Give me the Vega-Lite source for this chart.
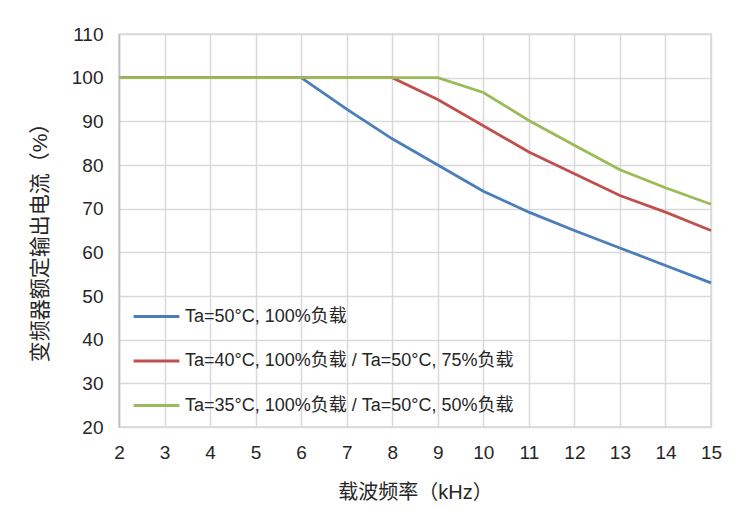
{
  "$schema": "https://vega.github.io/schema/vega-lite/v6.json",
  "autosize": "none",
  "width": 592,
  "height": 393,
  "padding": {"left": 119, "top": 34, "right": 29, "bottom": 97},
  "background": "white",
  "config": {
    "font": "Liberation Sans",
    "view": {"stroke": "#d9d9d9", "strokeWidth": 1.5}
  },
  "data": {
    "values": [
      {"f": 2, "v": 100, "s": "Ta=50°C, 100%负载"},
      {"f": 3, "v": 100, "s": "Ta=50°C, 100%负载"},
      {"f": 4, "v": 100, "s": "Ta=50°C, 100%负载"},
      {"f": 5, "v": 100, "s": "Ta=50°C, 100%负载"},
      {"f": 6, "v": 100, "s": "Ta=50°C, 100%负载"},
      {"f": 7, "v": 92.8, "s": "Ta=50°C, 100%负载"},
      {"f": 8, "v": 86, "s": "Ta=50°C, 100%负载"},
      {"f": 9, "v": 80, "s": "Ta=50°C, 100%负载"},
      {"f": 10, "v": 74, "s": "Ta=50°C, 100%负载"},
      {"f": 11, "v": 69.2, "s": "Ta=50°C, 100%负载"},
      {"f": 12, "v": 65, "s": "Ta=50°C, 100%负载"},
      {"f": 13, "v": 61, "s": "Ta=50°C, 100%负载"},
      {"f": 14, "v": 57, "s": "Ta=50°C, 100%负载"},
      {"f": 15, "v": 53, "s": "Ta=50°C, 100%负载"},
      {"f": 2, "v": 100, "s": "Ta=40°C, 100%负载 / Ta=50°C, 75%负载"},
      {"f": 3, "v": 100, "s": "Ta=40°C, 100%负载 / Ta=50°C, 75%负载"},
      {"f": 4, "v": 100, "s": "Ta=40°C, 100%负载 / Ta=50°C, 75%负载"},
      {"f": 5, "v": 100, "s": "Ta=40°C, 100%负载 / Ta=50°C, 75%负载"},
      {"f": 6, "v": 100, "s": "Ta=40°C, 100%负载 / Ta=50°C, 75%负载"},
      {"f": 7, "v": 100, "s": "Ta=40°C, 100%负载 / Ta=50°C, 75%负载"},
      {"f": 8, "v": 100, "s": "Ta=40°C, 100%负载 / Ta=50°C, 75%负载"},
      {"f": 9, "v": 95, "s": "Ta=40°C, 100%负载 / Ta=50°C, 75%负载"},
      {"f": 10, "v": 89, "s": "Ta=40°C, 100%负载 / Ta=50°C, 75%负载"},
      {"f": 11, "v": 83, "s": "Ta=40°C, 100%负载 / Ta=50°C, 75%负载"},
      {"f": 12, "v": 78, "s": "Ta=40°C, 100%负载 / Ta=50°C, 75%负载"},
      {"f": 13, "v": 73, "s": "Ta=40°C, 100%负载 / Ta=50°C, 75%负载"},
      {"f": 14, "v": 69.2, "s": "Ta=40°C, 100%负载 / Ta=50°C, 75%负载"},
      {"f": 15, "v": 65, "s": "Ta=40°C, 100%负载 / Ta=50°C, 75%负载"},
      {"f": 2, "v": 100, "s": "Ta=35°C, 100%负载 / Ta=50°C, 50%负载"},
      {"f": 3, "v": 100, "s": "Ta=35°C, 100%负载 / Ta=50°C, 50%负载"},
      {"f": 4, "v": 100, "s": "Ta=35°C, 100%负载 / Ta=50°C, 50%负载"},
      {"f": 5, "v": 100, "s": "Ta=35°C, 100%负载 / Ta=50°C, 50%负载"},
      {"f": 6, "v": 100, "s": "Ta=35°C, 100%负载 / Ta=50°C, 50%负载"},
      {"f": 7, "v": 100, "s": "Ta=35°C, 100%负载 / Ta=50°C, 50%负载"},
      {"f": 8, "v": 100, "s": "Ta=35°C, 100%负载 / Ta=50°C, 50%负载"},
      {"f": 9, "v": 100, "s": "Ta=35°C, 100%负载 / Ta=50°C, 50%负载"},
      {"f": 10, "v": 96.6, "s": "Ta=35°C, 100%负载 / Ta=50°C, 50%负载"},
      {"f": 11, "v": 90.2, "s": "Ta=35°C, 100%负载 / Ta=50°C, 50%负载"},
      {"f": 12, "v": 84.5, "s": "Ta=35°C, 100%负载 / Ta=50°C, 50%负载"},
      {"f": 13, "v": 78.9, "s": "Ta=35°C, 100%负载 / Ta=50°C, 50%负载"},
      {"f": 14, "v": 74.8, "s": "Ta=35°C, 100%负载 / Ta=50°C, 50%负载"},
      {"f": 15, "v": 71, "s": "Ta=35°C, 100%负载 / Ta=50°C, 50%负载"}
    ]
  },
  "mark": {"type": "line", "strokeWidth": 2.8, "clip": false},
  "encoding": {
    "x": {
      "field": "f",
      "type": "quantitative",
      "scale": {"domain": [2, 15], "nice": false, "zero": false},
      "axis": {
        "title": "载波频率（kHz）",
        "titleFont": "Liberation Sans, Noto Sans CJK SC",
        "titleFontSize": 20,
        "titleFontWeight": "normal",
        "titleColor": "#262626",
        "titleX": 296,
        "titleY": 65,
        "titleBaseline": "middle",
        "values": [2, 3, 4, 5, 6, 7, 8, 9, 10, 11, 12, 13, 14, 15],
        "labelFontSize": 19,
        "labelColor": "#262626",
        "labelPadding": 16,
        "labelFlush": false,
        "labelOverlap": false,
        "ticks": false,
        "domain": false,
        "grid": true,
        "gridColor": "#d9d9d9",
        "gridWidth": 1.5
      }
    },
    "y": {
      "field": "v",
      "type": "quantitative",
      "scale": {"domain": [20, 110], "nice": false, "zero": false},
      "axis": {
        "title": "变频器额定输出电流（%）",
        "titleFont": "Liberation Sans, Noto Sans CJK SC",
        "titleFontSize": 21,
        "titleFontWeight": "normal",
        "titleColor": "#262626",
        "titleX": -79,
        "titleY": 203,
        "titleAngle": -90,
        "titleAlign": "center",
        "titleBaseline": "middle",
        "values": [20, 30, 40, 50, 60, 70, 80, 90, 100, 110],
        "labelFontSize": 19,
        "labelColor": "#262626",
        "labelPadding": 16,
        "labelFlush": false,
        "ticks": false,
        "domain": true,
        "domainColor": "#bfbfbf",
        "domainWidth": 1.5,
        "grid": true,
        "gridColor": "#d9d9d9",
        "gridWidth": 1.5
      }
    },
    "color": {
      "field": "s",
      "type": "nominal",
      "sort": null,
      "scale": {
        "domain": ["Ta=50°C, 100%负载", "Ta=40°C, 100%负载 / Ta=50°C, 75%负载", "Ta=35°C, 100%负载 / Ta=50°C, 50%负载"],
        "range": ["#4a7ebb", "#c0504d", "#9bbb59"]
      },
      "legend": {
        "title": null,
        "orient": "none",
        "legendX": 13,
        "legendY": 258,
        "symbolType": "stroke",
        "symbolSize": 2100,
        "symbolStrokeWidth": 3,
        "labelFont": "Liberation Sans, Noto Sans CJK SC",
        "labelFontSize": 18,
        "labelColor": "#262626",
        "labelLimit": 600,
        "labelOffset": 4,
        "rowPadding": 10.5
      }
    }
  }
}
